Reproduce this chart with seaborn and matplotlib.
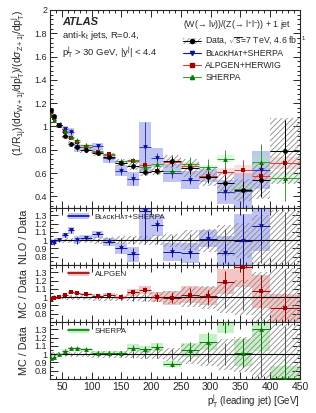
import numpy as np
import pandas as pd
import seaborn as sns
import matplotlib.pyplot as plt
from matplotlib.patches import Patch
from matplotlib.lines import Line2D
from matplotlib.ticker import MultipleLocator, FormatStrFormatter

# leading jet pT bins [GeV]
pt_lo = [30, 35, 40, 50, 60, 70, 80, 100, 120, 140, 160, 180, 200, 220, 250, 280, 310, 340, 370, 400]
pt_hi = [35, 40, 50, 60, 70, 80, 100, 120, 140, 160, 180, 200, 220, 250, 280, 310, 340, 370, 400, 450]

# measured W+1jet / Z+1jet ratio
data_val = [1.145, 1.087, 1.01, 0.922, 0.85, 0.822, 0.796, 0.774, 0.74, 0.689,
            0.66, 0.612, 0.62, 0.702, 0.643, 0.565, 0.514, 0.455, 0.537, 0.788]
data_stat = [0.01, 0.01, 0.01, 0.012, 0.015, 0.015, 0.015, 0.02, 0.025, 0.03,
             0.04, 0.045, 0.05, 0.06, 0.08, 0.09, 0.13, 0.16, 0.27, 0.34]   # relative
data_sys = [0.025, 0.025, 0.025, 0.03, 0.03, 0.03, 0.035, 0.04, 0.04, 0.045,
            0.05, 0.055, 0.06, 0.08, 0.12, 0.14, 0.19, 0.21, 0.30, 0.36]    # relative

# predictions / data
bh_ratio = [0.98, 0.97, 1.0, 1.06, 1.12, 1.0, 1.03, 1.07, 0.98, 0.90,
            0.83, 1.35, 1.18, 0.86, 0.845, 1.02, 0.845, 0.985, 1.17]
bh_unc = [0.02, 0.02, 0.02, 0.03, 0.04, 0.05, 0.03, 0.04, 0.05, 0.07,
          0.09, 0.35, 0.13, 0.11, 0.12, 0.10, 0.20, 0.33, 0.30]
bh_stat = [0.015, 0.015, 0.015, 0.02, 0.03, 0.04, 0.02, 0.03, 0.04, 0.05,
           0.08, 0.34, 0.07, 0.06, 0.06, 0.09, 0.12, 0.33, 0.23]

alp_ratio = [0.98, 0.99, 1.0, 1.03, 1.06, 1.05, 1.04, 1.01, 1.03, 1.0,
             1.06, 1.09, 1.0, 0.99, 1.03, 1.01, 1.19, 1.37, 1.07, 0.87]
alp_unc = [0.015, 0.015, 0.015, 0.015, 0.015, 0.015, 0.015, 0.02, 0.02, 0.02,
           0.04, 0.045, 0.06, 0.09, 0.10, 0.11, 0.15, 0.25, 0.20, 0.17]
alp_stat = [0.01, 0.01, 0.01, 0.01, 0.01, 0.01, 0.01, 0.015, 0.015, 0.02,
            0.03, 0.035, 0.05, 0.06, 0.08, 0.08, 0.13, 0.20, 0.20, 0.17]

sh_ratio = [0.96, 0.97, 1.0, 1.04, 1.07, 1.07, 1.06, 1.02, 1.02, 1.02,
            1.08, 1.06, 1.09, 0.88, 1.05, 1.15, 1.41, 1.02, 1.30, 0.71]
sh_unc = [0.02, 0.02, 0.02, 0.02, 0.02, 0.02, 0.02, 0.02, 0.025, 0.025,
          0.04, 0.04, 0.05, 0.04, 0.085, 0.10, 0.15, 0.16, 0.26, 0.15]
sh_stat = [0.01, 0.01, 0.01, 0.015, 0.015, 0.015, 0.015, 0.02, 0.02, 0.02,
           0.03, 0.04, 0.05, 0.04, 0.10, 0.12, 0.15, 0.18, 0.28, 0.25]

sns.set_style('ticks')
plt.rcParams['font.family'] = ['Liberation Sans', 'DejaVu Sans']
plt.rcParams['mathtext.fontset'] = 'custom'
plt.rcParams['mathtext.rm'] = 'Liberation Sans'
plt.rcParams['mathtext.it'] = 'Liberation Sans:italic'
plt.rcParams['mathtext.bf'] = 'Liberation Sans:bold'
plt.rcParams['hatch.linewidth'] = 0.6
plt.rcParams['axes.linewidth'] = 0.8

lo = np.array(pt_lo, float)
hi = np.array(pt_hi, float)
xc = (lo + hi) / 2
xw = hi - lo
dv = np.array(data_val)

df = pd.DataFrame({'pt': xc, 'val': dv})
n_bh = len(bh_ratio)

BLUE, BLUE_L = '#1010a0', '#aab0f2'
RED, RED_L = '#a00000', '#f5b0b0'
GREEN, GREEN_L = '#0a7a0a', '#b0eeb0'
HATCH_C = '#8a8a8a'

fig = plt.figure(figsize=(3.16, 4.13), dpi=100)
ax0 = fig.add_axes([0.158, 0.4964, 0.791, 0.4794])
ax1 = fig.add_axes([0.158, 0.3584, 0.791, 0.138])
ax2 = fig.add_axes([0.158, 0.2203, 0.791, 0.138])
ax3 = fig.add_axes([0.158, 0.0823, 0.791, 0.138])


def style_axis(ax):
    ax.set_xlim(30, 450)
    ax.xaxis.set_major_locator(MultipleLocator(50))
    ax.xaxis.set_minor_locator(MultipleLocator(10))
    ax.tick_params(which='both', direction='in', top=True, right=True, width=0.7)
    ax.tick_params(which='major', length=5, labelsize=6.5, pad=2)
    ax.tick_params(which='minor', length=2.5)


def boxes(ax, x, w, y, e, **kw):
    y = np.asarray(y)
    e = np.asarray(e)
    ax.bar(x, 2 * e, bottom=y - e, width=w, linewidth=0, **kw)


# ---------- top panel ----------
ax = ax0
boxes(ax, xc, xw, dv, dv * np.array(data_sys), facecolor='none', edgecolor=HATCH_C, hatch='//////', zorder=1)
bh_top = dv[:n_bh] * np.array(bh_ratio)
boxes(ax, xc[:n_bh], xw[:n_bh], bh_top, dv[:n_bh] * np.array(bh_unc), color=BLUE_L, alpha=0.75, zorder=0)
alp_top = dv * np.array(alp_ratio)
sh_top = dv * np.array(sh_ratio)
boxes(ax, xc, xw, alp_top, dv * np.array(alp_unc) * 0.4, color=RED_L, alpha=0.4, zorder=0)
boxes(ax, xc, xw, sh_top, dv * np.array(sh_unc) * 0.4, color=GREEN_L, alpha=0.4, zorder=0)

ax.errorbar(xc[:n_bh], bh_top, xerr=xw[:n_bh] / 2, yerr=dv[:n_bh] * np.array(bh_stat),
            fmt='none', ecolor=BLUE, elinewidth=0.7, alpha=0.8, zorder=2)
ax.errorbar(xc, alp_top, xerr=xw / 2, yerr=dv * np.array(alp_stat),
            fmt='none', ecolor='#d04040', elinewidth=0.7, zorder=2)
ax.errorbar(xc, sh_top, xerr=xw / 2, yerr=dv * np.array(sh_stat),
            fmt='none', ecolor='#30a030', elinewidth=0.7, zorder=2)
ax.errorbar(xc, dv, xerr=xw / 2, yerr=dv * np.array(data_stat),
            fmt='none', ecolor='black', elinewidth=0.7, zorder=3)

sns.scatterplot(x=xc[:n_bh], y=bh_top, marker='v', color=BLUE, s=12, linewidth=0, ax=ax, zorder=4)
sns.scatterplot(x=xc, y=alp_top, marker='s', color=RED, s=12, linewidth=0, ax=ax, zorder=4)
sns.scatterplot(x=xc, y=sh_top, marker='^', color=GREEN, s=12, linewidth=0, ax=ax, zorder=4)
sns.scatterplot(data=df, x='pt', y='val', marker='o', color='black', s=12, linewidth=0, ax=ax, zorder=5)

style_axis(ax)
ax.set_ylim(0.3, 2.0)
ax.yaxis.set_major_locator(MultipleLocator(0.2))
ax.yaxis.set_minor_locator(MultipleLocator(0.04))
ax.yaxis.set_major_formatter(FormatStrFormatter('%g'))
ax.set_xticklabels([])
ax.set_xlabel('')
ax.set_ylabel(r'(1/R$_{\rm 1j}$)(d$\sigma_{\rm W+1j}$/dp$_{\rm T}^{\rm j}$)/(d$\sigma_{\rm Z+1j}$/dp$_{\rm T}^{\rm j}$)',
              fontsize=7.5, loc='top', labelpad=4)

ax.text(0.05, 0.94, 'ATLAS', transform=ax.transAxes, fontsize=8, fontweight='bold',
        fontstyle='italic', va='center')
ax.text(0.05, 0.872, r'anti-k$_{\rm t}$ jets, R=0.4,', transform=ax.transAxes, fontsize=6.8, va='center')
ax.text(0.05, 0.79, r'p$_{\rm T}^{\rm j}$ > 30 GeV, |y$^{\rm j}$| < 4.4', transform=ax.transAxes,
        fontsize=6.8, va='center')

h_data = (Patch(facecolor='none', edgecolor=HATCH_C, hatch='//////', linewidth=0),
          Line2D([], [], color='black', lw=0.7, marker='o', markersize=3))
h_bh = Line2D([], [], color=BLUE, lw=0.8, marker='v', markersize=3)
h_alp = Line2D([], [], color='#d04040', lw=0.8, marker='s', markersize=3, markerfacecolor=RED, markeredgecolor=RED)
h_sh = Line2D([], [], color='#30a030', lw=0.8, marker='^', markersize=3, markerfacecolor=GREEN, markeredgecolor=GREEN)
leg = ax.legend([h_data, h_bh, h_alp, h_sh],
                [r'Data, $\sqrt{\rm s}$=7 TeV, 4.6 fb$^{\rm -1}$', 'BʟᴀᴄᴋHᴀᴛ+SHERPA', 'ALPGEN+HERWIG', 'SHERPA'],
                title=r'(W(→ l$\nu$))/(Z(→ l$^{+}$l$^{-}$)) + 1 jet',
                loc='upper left', bbox_to_anchor=(0.52, 0.975), frameon=False,
                fontsize=6.3, title_fontsize=6.3, handlelength=2.0, handletextpad=0.5,
                labelspacing=0.3, borderaxespad=0, alignment='left')

# ---------- ratio panels ----------
panels = [
    (ax1, bh_ratio, bh_unc, bh_stat, BLUE, BLUE_L, 'v', 'BʟᴀᴄᴋHᴀᴛ+SHERPA', 'NLO / Data'),
    (ax2, alp_ratio, alp_unc, alp_stat, RED, RED_L, 's', 'ALPGEN', 'MC / Data'),
    (ax3, sh_ratio, sh_unc, sh_stat, GREEN, GREEN_L, '^', 'SHERPA', 'MC / Data'),
]
for ax, r, u, st, c, cl, m, lab, ylab in panels:
    k = len(r)
    boxes(ax, xc, xw, np.ones(len(xc)), np.array(data_sys), facecolor='none', edgecolor=HATCH_C,
          hatch='//////', zorder=1)
    ax.errorbar(xc, np.ones(len(xc)), yerr=np.array(data_stat), fmt='none', ecolor='#555555',
                elinewidth=0.7, zorder=1.5)
    boxes(ax, xc[:k], xw[:k], r, u, color=cl, alpha=0.75, zorder=0.5)
    ax.axhline(1.0, color='black', lw=0.8, zorder=2)
    ax.errorbar(xc[:k], r, xerr=xw[:k] / 2, yerr=st, fmt='none', ecolor=c, elinewidth=0.7, zorder=3)
    sns.scatterplot(x=xc[:k], y=np.array(r), marker=m, color=c, s=12, linewidth=0, ax=ax, zorder=4)
    style_axis(ax)
    ax.set_ylim(0.7, 1.39)
    ax.set_yticks([0.8, 0.9, 1.0, 1.1, 1.2, 1.3])
    ax.yaxis.set_minor_locator(MultipleLocator(0.05))
    ax.yaxis.set_major_formatter(FormatStrFormatter('%g'))
    ax.tick_params(axis='y', which='major', length=6)
    ax.set_ylabel(ylab, fontsize=7.8, labelpad=4)
    ax.set_xlabel('')
    hl = (Patch(facecolor=cl, alpha=0.75, linewidth=0), Line2D([], [], color=c, lw=1.2))
    ax.legend([hl], [lab], loc='upper left', bbox_to_anchor=(0.06, 0.96), frameon=False,
              fontsize=5.8, handlelength=2.6, handletextpad=0.7, borderaxespad=0)

for ax in (ax1, ax2):
    ax.set_xticklabels([])

ax3.tick_params(axis='x', labelsize=7.5, pad=2)
ax3.set_xlabel(r'p$_{\rm T}^{\rm j}$ (leading jet) [GeV]', fontsize=7, loc='right', labelpad=0)

fig.savefig('out.png', dpi=100)
